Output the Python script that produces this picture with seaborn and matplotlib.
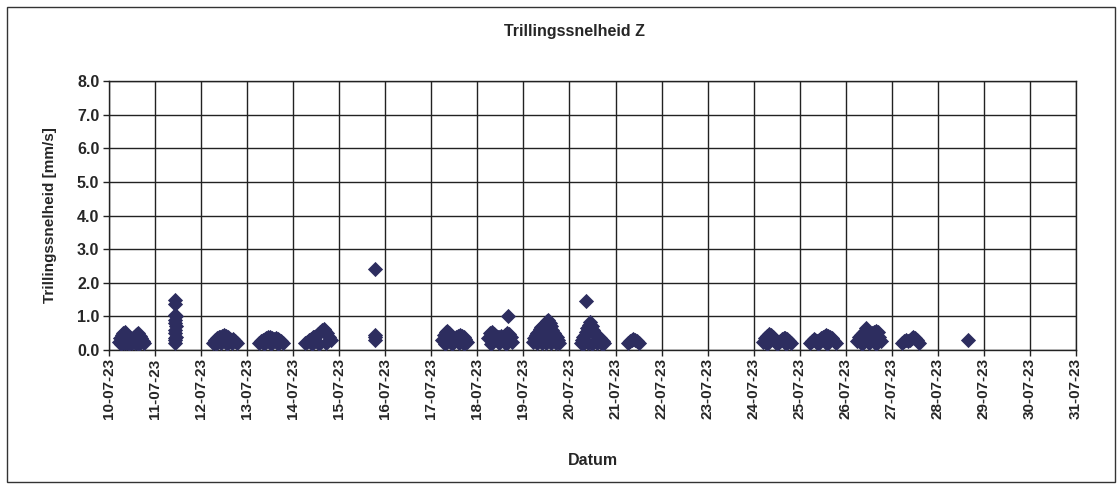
import pandas as pd
import matplotlib
matplotlib.use("Agg")
import matplotlib.pyplot as plt
import matplotlib.dates as mdates
from matplotlib.patches import Rectangle
import seaborn as sns

# --- DATA: per meetdag (dag van juli 2023 met fractie) en snelheid [mm/s] ---
d10 = [10.22, 10.25, 10.28, 10.31, 10.34, 10.37, 10.40, 10.43, 10.46, 10.49, 10.52, 10.55,
       10.58, 10.61, 10.64, 10.67, 10.70, 10.73, 10.76, 10.26, 10.32, 10.38, 10.44, 10.50,
       10.56, 10.62, 10.68, 10.74]
v10 = [0.25, 0.35, 0.45, 0.50, 0.53, 0.48, 0.40, 0.38, 0.35, 0.33, 0.35, 0.40,
       0.45, 0.48, 0.50, 0.42, 0.35, 0.28, 0.22, 0.18, 0.20, 0.22, 0.18, 0.20,
       0.22, 0.18, 0.20, 0.25]

d11 = [11.43, 11.44, 11.45, 11.43, 11.44, 11.45, 11.43, 11.44, 11.45, 11.43, 11.44, 11.44, 11.43]
v11 = [0.20, 0.30, 0.40, 0.50, 0.60, 0.70, 0.80, 0.90, 1.00, 1.05, 0.35, 1.38, 1.50]

d12 = [12.26, 12.30, 12.34, 12.38, 12.42, 12.46, 12.50, 12.54, 12.58, 12.62, 12.66, 12.70,
       12.74, 12.78, 12.32, 12.44, 12.56, 12.68]
v12 = [0.22, 0.30, 0.35, 0.38, 0.40, 0.43, 0.45, 0.42, 0.38, 0.33, 0.30, 0.32,
       0.28, 0.22, 0.18, 0.20, 0.18, 0.20]

d13 = [13.26, 13.30, 13.34, 13.38, 13.42, 13.46, 13.50, 13.54, 13.58, 13.62, 13.66, 13.70,
       13.74, 13.78, 13.36, 13.52, 13.68]
v13 = [0.22, 0.28, 0.30, 0.33, 0.35, 0.38, 0.40, 0.36, 0.33, 0.35, 0.32, 0.30,
       0.26, 0.22, 0.18, 0.18, 0.18]

d14 = [14.26, 14.30, 14.34, 14.38, 14.42, 14.46, 14.50, 14.54, 14.58, 14.62, 14.66, 14.70,
       14.74, 14.78, 14.82, 14.40, 14.56, 14.72]
v14 = [0.20, 0.25, 0.30, 0.33, 0.38, 0.40, 0.42, 0.48, 0.55, 0.60, 0.63, 0.58,
       0.50, 0.40, 0.30, 0.18, 0.18, 0.20]

d15 = [15.78, 15.78, 15.78, 15.78]
v15 = [2.40, 0.45, 0.38, 0.30]

d17 = [17.24, 17.28, 17.32, 17.35, 17.38, 17.42, 17.46, 17.50, 17.54, 17.58, 17.62, 17.66,
       17.70, 17.74, 17.78, 17.30, 17.45, 17.60, 17.72]
v17 = [0.30, 0.45, 0.55, 0.58, 0.50, 0.35, 0.28, 0.30, 0.38, 0.42, 0.45, 0.43,
       0.38, 0.32, 0.25, 0.18, 0.18, 0.20, 0.18]

d18 = [18.24, 18.28, 18.32, 18.36, 18.40, 18.44, 18.48, 18.52, 18.56, 18.60, 18.64, 18.68,
       18.72, 18.76, 18.30, 18.46, 18.62, 18.66]
v18 = [0.35, 0.50, 0.55, 0.48, 0.42, 0.38, 0.40, 0.42, 0.40, 0.45, 0.50, 0.48,
       0.38, 0.25, 0.18, 0.20, 0.18, 1.00]

d19 = [19.21, 19.24, 19.27, 19.30, 19.33, 19.36, 19.39, 19.42, 19.45, 19.48, 19.51, 19.54,
       19.57, 19.60, 19.63, 19.66, 19.69, 19.72, 19.75, 19.78, 19.30, 19.40, 19.50, 19.60,
       19.70, 19.35, 19.45, 19.55, 19.65]
v19 = [0.25, 0.35, 0.45, 0.50, 0.55, 0.62, 0.68, 0.72, 0.75, 0.80, 0.85, 0.88,
       0.80, 0.72, 0.60, 0.52, 0.45, 0.38, 0.30, 0.22, 0.20, 0.22, 0.20, 0.22,
       0.20, 0.40, 0.50, 0.55, 0.40]

d20 = [20.24, 20.27, 20.30, 20.33, 20.36, 20.39, 20.42, 20.45, 20.48, 20.51, 20.54, 20.57,
       20.60, 20.63, 20.66, 20.69, 20.72, 20.75, 20.30, 20.40, 20.50, 20.60, 20.70, 20.36]
v20 = [0.22, 0.30, 0.38, 0.45, 0.55, 0.65, 0.75, 0.82, 0.70, 0.60, 0.52, 0.48,
       0.42, 0.38, 0.35, 0.30, 0.28, 0.22, 0.18, 0.20, 0.18, 0.20, 0.18, 1.45]

d21 = [21.27, 21.31, 21.35, 21.39, 21.43, 21.47, 21.51]
v21 = [0.22, 0.27, 0.30, 0.32, 0.30, 0.27, 0.22]

d24 = [24.21, 24.25, 24.29, 24.33, 24.37, 24.41, 24.45, 24.49, 24.53, 24.57, 24.61, 24.65,
       24.69, 24.73, 24.77, 24.81, 24.30, 24.50, 24.70]
v24 = [0.25, 0.35, 0.42, 0.48, 0.45, 0.38, 0.30, 0.25, 0.22, 0.28, 0.32, 0.35,
       0.35, 0.33, 0.28, 0.22, 0.18, 0.18, 0.18]

d25 = [25.22, 25.26, 25.30, 25.34, 25.38, 25.42, 25.46, 25.50, 25.54, 25.58, 25.62, 25.66,
       25.70, 25.74, 25.78, 25.40, 25.60]
v25 = [0.22, 0.28, 0.32, 0.30, 0.28, 0.30, 0.35, 0.40, 0.42, 0.45, 0.43, 0.40,
       0.35, 0.28, 0.22, 0.18, 0.18]

d26 = [26.25, 26.29, 26.33, 26.37, 26.41, 26.45, 26.49, 26.53, 26.57, 26.61, 26.65, 26.69,
       26.73, 26.77, 26.35, 26.50, 26.65, 26.42, 26.58]
v26 = [0.28, 0.38, 0.45, 0.50, 0.58, 0.65, 0.55, 0.45, 0.50, 0.55, 0.58, 0.55,
       0.40, 0.28, 0.18, 0.20, 0.18, 0.35, 0.35]

d27 = [27.23, 27.27, 27.31, 27.35, 27.39, 27.43, 27.47, 27.51, 27.55, 27.59]
v27 = [0.22, 0.28, 0.30, 0.28, 0.30, 0.35, 0.38, 0.35, 0.30, 0.22]

d28 = [28.65]
v28 = [0.30]

y_ticks = [0.0, 1.0, 2.0, 3.0, 4.0, 5.0, 6.0, 7.0, 8.0]

# --- DATAFRAME ---
dagen = d10 + d11 + d12 + d13 + d14 + d15 + d17 + d18 + d19 + d20 + d21 + d24 + d25 + d26 + d27 + d28
waarden = v10 + v11 + v12 + v13 + v14 + v15 + v17 + v18 + v19 + v20 + v21 + v24 + v25 + v26 + v27 + v28
df = pd.DataFrame({'dag': dagen, 'Trillingssnelheid': waarden})
df['Datum'] = pd.Timestamp('2023-07-01') + pd.to_timedelta(df['dag'] - 1, unit='D')

sns.set_style("white")
plt.rcParams['font.family'] = ['Liberation Sans', 'DejaVu Sans']

fig = plt.figure(figsize=(11.2, 4.86), dpi=100)
ax = fig.add_axes([0.0973, 0.2798, 0.8634, 0.5535])

sns.scatterplot(data=df, x='Datum', y='Trillingssnelheid', ax=ax, marker='D',
                s=60, color='#2d2d5f', linewidth=0, zorder=3)

ax.set_xlim(pd.Timestamp('2023-07-10'), pd.Timestamp('2023-07-31'))
ax.set_ylim(0, 8)
ax.set_yticks(y_ticks)
ax.set_yticklabels([f'{v:.1f}' for v in y_ticks])
ax.xaxis.set_major_locator(mdates.DayLocator())
ax.xaxis.set_major_formatter(mdates.DateFormatter('%d-%m-%y'))

ax.grid(True, color='#222222', linewidth=1.0, zorder=0)
ax.set_axisbelow(True)
for sp in ax.spines.values():
    sp.set_color('#222222')
    sp.set_linewidth(1.0)

ax.tick_params(axis='x', which='major', rotation=90, length=4, width=1,
               direction='out', bottom=True, labelsize=11, color='#222222', pad=2)
ax.tick_params(axis='y', which='major', length=4, width=1, direction='out',
               left=True, labelsize=11.5, color='#222222', pad=3)
for lbl in ax.get_xticklabels() + ax.get_yticklabels():
    lbl.set_fontweight('bold')

ax.set_xlabel('Datum', fontsize=11.5, fontweight='bold', labelpad=24)
ax.set_ylabel('Trillingssnelheid [mm/s]', fontsize=11, fontweight='bold', labelpad=14)
fig.text(0.5125, 0.935, 'Trillingssnelheid Z', ha='center', va='center',
         fontsize=11.5, fontweight='bold')

# rand om de hele grafiek
fig.patches.append(Rectangle((7 / 1120, 4 / 486), 1108 / 1120, 475 / 486,
                             transform=fig.transFigure, fill=False,
                             edgecolor='#333333', linewidth=1.0))

fig.savefig('out.png', dpi=100)
